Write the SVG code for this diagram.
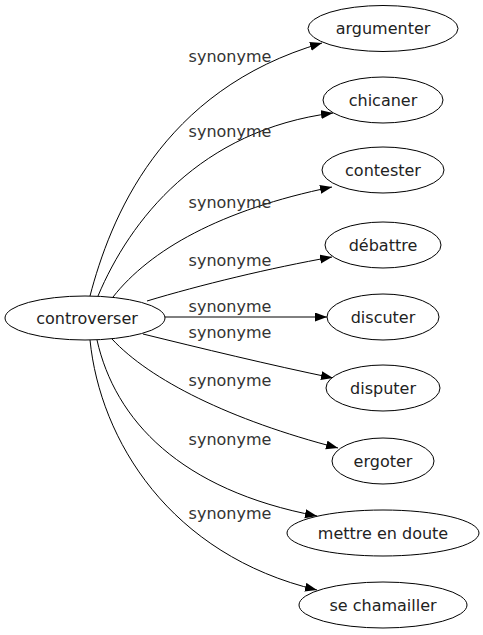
<svg xmlns="http://www.w3.org/2000/svg" width="483" height="635" viewBox="0 0 483 635">
<style>
  .node ellipse { fill: #ffffff; stroke: #000000; stroke-width: 1; }
  .node text { font-family: "DejaVu Sans", sans-serif; font-size: 16px; fill: #222222; text-anchor: middle; }
  .edges path { fill: none; stroke: #000000; stroke-width: 1; marker-end: url(#arrow); }
  .edges text { font-family: "DejaVu Sans", sans-serif; font-size: 16px; fill: #333333; text-anchor: middle; }
</style>
<defs>
  <marker id="arrow" markerUnits="userSpaceOnUse" markerWidth="13" markerHeight="10" refX="12" refY="4.5" orient="auto">
    <path d="M0,0 L12,4.5 L0,9 z" fill="#000000"/>
  </marker>
</defs>
<rect width="483" height="635" fill="#ffffff"/>
<g id="connectors" class="edges">
  <path d="M90,296 C110,220 160,90 322,43"/>
  <path d="M98,296 C130,220 200,130 333,113"/>
  <path d="M113,297 C150,250 220,210 332,187"/>
  <path d="M147,301 C200,285 270,268 332,257"/>
  <path d="M164,317 L327,317"/>
  <path d="M143,334 C200,348 270,365 333,378"/>
  <path d="M112,339 C150,380 230,420 338,448"/>
  <path d="M97,340 C115,420 180,490 317,516"/>
  <path d="M90,340 C100,440 170,555 317,590"/>
  <text x="230" y="62">synonyme</text>
  <text x="230" y="137">synonyme</text>
  <text x="230" y="208">synonyme</text>
  <text x="230" y="266">synonyme</text>
  <text x="230" y="312">synonyme</text>
  <text x="230" y="338">synonyme</text>
  <text x="230" y="386">synonyme</text>
  <text x="230" y="445">synonyme</text>
  <text x="230" y="519">synonyme</text>
</g>
<g id="controverser" class="node"><ellipse cx="85" cy="318" rx="80" ry="22"/><text x="87" y="323.5">controverser</text></g>
<g id="argumenter" class="node"><ellipse cx="383" cy="28.5" rx="75" ry="23"/><text x="383" y="34">argumenter</text></g>
<g id="chicaner" class="node"><ellipse cx="383" cy="100" rx="60" ry="23"/><text x="383" y="105.5">chicaner</text></g>
<g id="contester" class="node"><ellipse cx="383" cy="170" rx="61" ry="23"/><text x="383" y="175.5">contester</text></g>
<g id="debattre" class="node"><ellipse cx="383" cy="245" rx="58" ry="23"/><text x="383" y="250.5">débattre</text></g>
<g id="discuter" class="node"><ellipse cx="383" cy="317" rx="56" ry="23"/><text x="383" y="322.5">discuter</text></g>
<g id="disputer" class="node"><ellipse cx="383" cy="388" rx="57" ry="23"/><text x="383" y="393.5">disputer</text></g>
<g id="ergoter" class="node"><ellipse cx="383" cy="461" rx="51" ry="23"/><text x="383" y="466.5">ergoter</text></g>
<g id="mettre-en-doute" class="node"><ellipse cx="383" cy="533" rx="96" ry="23"/><text x="383" y="538.5">mettre en doute</text></g>
<g id="se-chamailler" class="node"><ellipse cx="383" cy="605" rx="84" ry="23"/><text x="383" y="610.5">se chamailler</text></g>
</svg>
